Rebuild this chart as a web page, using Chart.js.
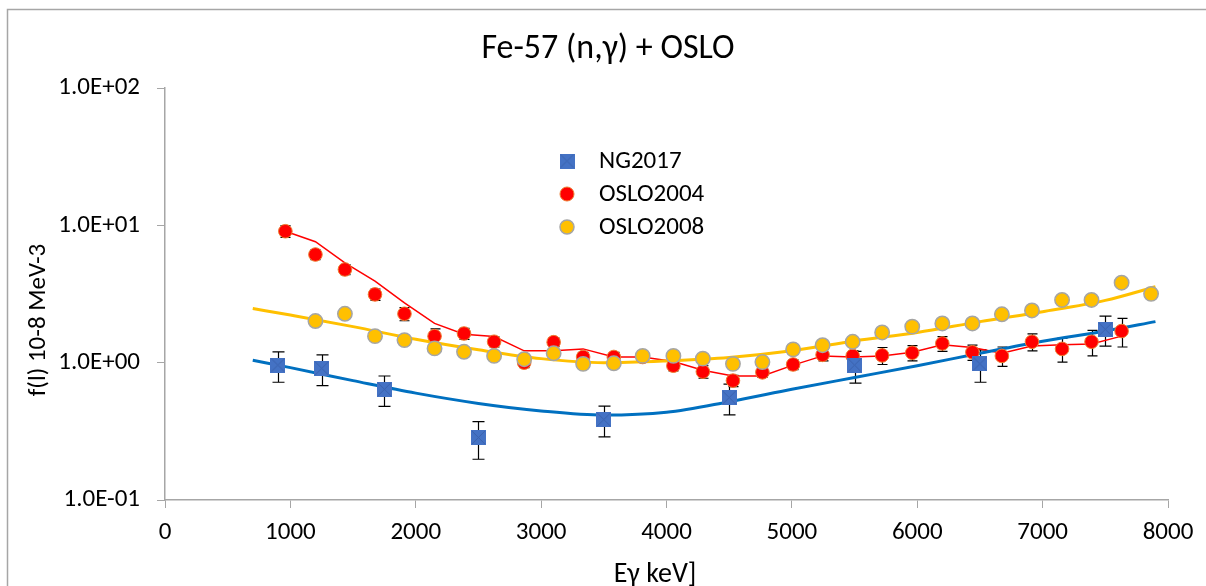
<!DOCTYPE html>
<html>
<head>
<meta charset="utf-8">
<title>Fe-57 (n,γ) + OSLO</title>
<script src="https://cdn.jsdelivr.net/npm/chart.js@4.4.1/dist/chart.umd.min.js"></script>
<style>
    html, body { margin: 0; padding: 0; background: #fff; }
    #wrap { width: 1206px; height: 586px; }
</style>
</head>
<body>
<div id="wrap"><canvas id="fe57Chart" width="1206" height="586"></canvas></div>
<script>
// NG2017 points (keV, f in 10-8 MeV-3)
const ngEnergy = [900, 1250, 1750, 2500, 3500, 4500, 5500, 6500, 7500];
const ngValues = [0.96, 0.91, 0.64, 0.285, 0.385, 0.557, 0.96, 0.98, 1.75];
const ngErrors = [0.24, 0.23, 0.16, 0.087, 0.097, 0.14, 0.25, 0.26, 0.43];

// OSLO2004 points
const oslo04Energy = [960, 1200, 1435, 1675, 1910, 2150, 2385, 2625, 2865, 3100, 3335, 3580, 3810, 4055, 4290,
    4530, 4765, 5010, 5245, 5485, 5720, 5960, 6200, 6440, 6675, 6915, 7155, 7390, 7630];
const oslo04Values = [9.06, 6.13, 4.77, 3.14, 2.27, 1.56, 1.63, 1.42, 1.0, 1.41, 1.1, 1.1, 1.1, 0.95, 0.86,
    0.74, 0.85, 0.97, 1.14, 1.12, 1.13, 1.18, 1.38, 1.19, 1.12, 1.42, 1.26, 1.42, 1.7];
const oslo04Errors = [0.9, 0.5, 0.4, 0.3, 0.25, 0.2, 0.15, 0.12, 0.08, 0.1, 0.09, 0.09, 0.09, 0.08, 0.09,
    0.07, 0.07, 0.08, 0.11, 0.1, 0.16, 0.15, 0.17, 0.15, 0.18, 0.2, 0.25, 0.3, 0.4];
// thin red line drawn along the OSLO2004 points
const oslo04Line = [9.06, 7.6, 5.33, 3.93, 2.73, 1.93, 1.61, 1.55, 1.22, 1.22, 1.26, 1.1, 1.1, 1.02, 0.88,
    0.8, 0.8, 0.96, 1.12, 1.1, 1.12, 1.19, 1.35, 1.29, 1.17, 1.32, 1.35, 1.37, 1.56];

// OSLO2008 points
const oslo08Energy = [1200, 1435, 1675, 1910, 2150, 2385, 2625, 2865, 3100, 3335, 3580, 3810, 4055, 4290, 4530,
    4765, 5010, 5245, 5485, 5720, 5960, 6200, 6440, 6675, 6915, 7155, 7390, 7630, 7865];
const oslo08Values = [2.01, 2.27, 1.56, 1.46, 1.27, 1.2, 1.12, 1.06, 1.17, 0.98, 0.99, 1.12, 1.12, 1.07, 0.98,
    1.01, 1.25, 1.34, 1.42, 1.66, 1.83, 1.93, 1.93, 2.25, 2.4, 2.86, 2.86, 3.82, 3.17];

// smooth fit curves
const fitEnergy = [700, 1000, 1500, 2000, 2500, 3000, 3500, 4000, 4500, 5000, 5500, 6000, 6500, 7000, 7500, 7900];
const ngFit = [1.04, 0.92, 0.74, 0.6, 0.505, 0.445, 0.415, 0.435, 0.52, 0.64, 0.78, 0.95, 1.17, 1.43, 1.7, 1.99];
const osloFit = [2.48, 2.22, 1.83, 1.48, 1.24, 1.07, 1.0, 1.03, 1.09, 1.22, 1.44, 1.66, 1.99, 2.35, 2.84, 3.57];

// axis ticks
const yTicks = [0.1, 1, 10, 100];
const yTickLabels = ['1.0E-01', '1.0E+00', '1.0E+01', '1.0E+02'];
const xTicks = [0, 1000, 2000, 3000, 4000, 5000, 6000, 7000, 8000];

const FONT = 'Carlito, Calibri, Lato, sans-serif';
const BLUE = '#4472C4';

const toPoints = (xs, ys) => xs.map((x, i) => ({ x: x, y: ys[i] }));

// blue square with a thin cross, as in the Excel marker
function squareMarker(size) {
    const c = document.createElement('canvas');
    c.width = size;
    c.height = size;
    const g = c.getContext('2d');
    g.fillStyle = BLUE;
    g.fillRect(0, 0, size, size);
    g.strokeStyle = '#3A62AE';
    g.lineWidth = 1;
    g.beginPath();
    g.moveTo(1, 1); g.lineTo(size - 1, size - 1);
    g.moveTo(size - 1, 1); g.lineTo(1, size - 1);
    g.stroke();
    return c;
}
const ngMarker = squareMarker(15);

// vertical error bars with caps
function drawErrors(chart, xs, ys, errs, cap) {
    const { ctx, scales } = chart;
    ctx.save();
    ctx.strokeStyle = '#000';
    ctx.lineWidth = 1.2;
    xs.forEach((x, i) => {
        const px = Math.round(scales.x.getPixelForValue(x)) + 0.5;
        const top = scales.y.getPixelForValue(ys[i] + errs[i]);
        const bot = scales.y.getPixelForValue(ys[i] - errs[i]);
        ctx.beginPath();
        ctx.moveTo(px, top); ctx.lineTo(px, bot);
        ctx.moveTo(px - cap, top); ctx.lineTo(px + cap, top);
        ctx.moveTo(px - cap, bot); ctx.lineTo(px + cap, bot);
        ctx.stroke();
    });
    ctx.restore();
}

const errorBars = {
    id: 'errorBars',
    beforeDatasetsDraw(chart) {
        drawErrors(chart, oslo04Energy, oslo04Values, oslo04Errors, 5);
        drawErrors(chart, ngEnergy, ngValues, ngErrors, 6);
    }
};

// frame, title, axis titles and legend
const decorations = {
    id: 'decorations',
    beforeDraw(chart) {
        const ctx = chart.ctx;
        ctx.save();
        ctx.fillStyle = '#fff';
        ctx.fillRect(0, 0, chart.width, chart.height);
        ctx.strokeStyle = '#A6A6A6';
        ctx.lineWidth = 1.5;
        ctx.strokeRect(7.5, 9.5, chart.width + 20, chart.height + 20);
        ctx.restore();
    },
    afterDraw(chart) {
        const ctx = chart.ctx;
        ctx.save();
        ctx.fillStyle = '#000';
        ctx.textAlign = 'center';
        ctx.textBaseline = 'alphabetic';
        ctx.font = '34px ' + FONT;
        ctx.fillText('Fe-57 (n,γ) + OSLO', 608, 58);

        ctx.font = '28px ' + FONT;
        ctx.fillText('Eγ keV]', 655, 582);

        ctx.save();
        ctx.font = '25px ' + FONT;
        ctx.translate(45, 320);
        ctx.rotate(-Math.PI / 2);
        ctx.fillText('f(l) 10-8 MeV-3', 0, 0);
        ctx.restore();

        // legend
        const items = [
            { label: 'NG2017', y: 161 },
            { label: 'OSLO2004', y: 194 },
            { label: 'OSLO2008', y: 227 }
        ];
        const mx = 567;
        ctx.drawImage(ngMarker, mx - 7.5, items[0].y - 7.5);
        ctx.beginPath();
        ctx.arc(mx, items[1].y, 7, 0, Math.PI * 2);
        ctx.fillStyle = '#FF0000';
        ctx.fill();
        ctx.strokeStyle = '#ED7D31';
        ctx.lineWidth = 1;
        ctx.stroke();
        ctx.beginPath();
        ctx.arc(mx, items[2].y, 7, 0, Math.PI * 2);
        ctx.fillStyle = '#FFC000';
        ctx.fill();
        ctx.strokeStyle = '#A5A5A5';
        ctx.lineWidth = 1.5;
        ctx.stroke();

        ctx.fillStyle = '#000';
        ctx.textAlign = 'left';
        ctx.textBaseline = 'middle';
        ctx.font = '25px ' + FONT;
        items.forEach(it => ctx.fillText(it.label, 599, it.y + 1));
        ctx.restore();
    }
};

const ctx = document.getElementById('fe57Chart').getContext('2d');
new Chart(ctx, {
    type: 'scatter',
    data: {
        datasets: [
            {
                label: 'NG2017',
                data: toPoints(ngEnergy, ngValues),
                pointStyle: ngMarker,
                pointRadius: 8,
                order: 1
            },
            {
                label: 'OSLO2008',
                data: toPoints(oslo08Energy, oslo08Values),
                backgroundColor: '#FFC000',
                borderColor: '#A5A5A5',
                borderWidth: 1.5,
                pointRadius: 7.2,
                order: 2
            },
            {
                label: 'OSLO2004',
                data: toPoints(oslo04Energy, oslo04Values),
                backgroundColor: '#FF0000',
                borderColor: '#ED7D31',
                borderWidth: 1,
                pointRadius: 6.8,
                order: 3
            },
            {
                label: 'NG fit',
                data: toPoints(fitEnergy, ngFit),
                showLine: true,
                borderColor: '#0070C0',
                borderWidth: 3,
                pointRadius: 0,
                cubicInterpolationMode: 'monotone',
                order: 4
            },
            {
                label: 'OSLO fit',
                data: toPoints(fitEnergy, osloFit),
                showLine: true,
                borderColor: '#FFC000',
                borderWidth: 3,
                pointRadius: 0,
                cubicInterpolationMode: 'monotone',
                order: 5
            },
            {
                label: 'OSLO2004 line',
                data: toPoints(oslo04Energy, oslo04Line),
                showLine: true,
                borderColor: '#FF0000',
                borderWidth: 1.5,
                pointRadius: 0,
                order: 6
            }
        ]
    },
    options: {
        responsive: false,
        devicePixelRatio: 1,
        animation: false,
        layout: {
            padding: { left: 0, top: 88, right: 38, bottom: 0 }
        },
        plugins: {
            legend: { display: false },
            title: { display: false },
            tooltip: { enabled: false }
        },
        scales: {
            x: {
                type: 'linear',
                min: 0,
                max: 8000,
                afterFit: (scale) => { scale.height = 86; },
                afterBuildTicks: (scale) => { scale.ticks = xTicks.map(v => ({ value: v })); },
                grid: {
                    drawOnChartArea: false,
                    drawTicks: true,
                    tickLength: 8,
                    color: '#A6A6A6'
                },
                border: { color: '#A6A6A6', width: 1.5 },
                ticks: {
                    color: '#000',
                    padding: 10,
                    maxRotation: 0,
                    font: { family: FONT, size: 25 },
                    callback: (value) => String(value)
                }
            },
            y: {
                type: 'logarithmic',
                min: 0.1,
                max: 100,
                afterFit: (scale) => { scale.width = 165; },
                afterBuildTicks: (scale) => { scale.ticks = yTicks.map(v => ({ value: v })); },
                grid: {
                    drawOnChartArea: false,
                    drawTicks: true,
                    tickLength: 8,
                    color: '#A6A6A6'
                },
                border: { color: '#A6A6A6', width: 1.5 },
                ticks: {
                    color: '#000',
                    padding: 17,
                    font: { family: FONT, size: 25 },
                    callback: (value) => {
                        const i = yTicks.indexOf(value);
                        return i >= 0 ? yTickLabels[i] : '';
                    }
                }
            }
        }
    },
    plugins: [errorBars, decorations]
});
</script>
</body>
</html>
